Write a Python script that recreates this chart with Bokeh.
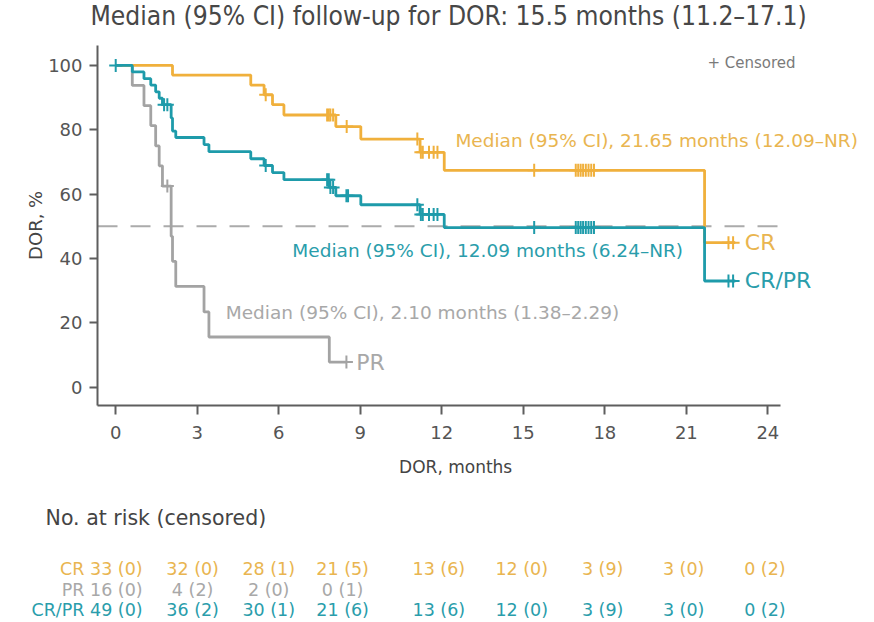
import numpy as np
from bokeh.plotting import figure
from bokeh.models import Range1d, Label, FixedTicker
from bokeh.embed import file_html
from bokeh.resources import INLINE

# ---------------- data ----------------
cr_times = [0, 2.09, 4.97, 5.46, 5.77, 6.19, 8.10, 9.02, 11.20, 12.09, 21.67]
cr_surv = [100, 97.0, 93.9, 90.9, 87.8, 84.6, 81.0, 77.1, 73.0, 67.4, 44.9]
cr_end = 22.8
cr_cens = [5.52, 7.78, 7.84, 7.90, 8.00, 8.50, 11.10, 11.23, 11.30, 11.53, 11.70, 11.84,
           15.40, 16.93, 17.02, 17.11, 17.20, 17.30, 17.40, 17.50, 17.60, 22.55, 22.72]

crpr_times = [0, 0.61, 1.04, 1.29, 1.47, 1.60, 1.72, 2.04, 2.09, 2.21, 3.25, 3.43, 4.97,
              5.46, 5.77, 6.19, 7.86, 8.10, 9.02, 11.20, 12.09, 21.67]
crpr_surv = [100, 98.0, 95.9, 93.9, 91.8, 89.8, 87.8, 83.7, 79.6, 77.6, 75.4, 73.2, 71.0,
             68.9, 66.7, 64.5, 62.1, 59.5, 56.7, 53.7, 49.6, 33.0]
crpr_end = 22.8
crpr_cens = [1.78, 1.90, 5.52, 7.78, 7.84, 7.90, 8.00, 8.49, 8.55, 11.10, 11.23, 11.30,
             11.53, 11.70, 11.84, 15.40, 16.93, 17.02, 17.11, 17.20, 17.30, 17.40, 17.50,
             17.60, 22.55, 22.72]

pr_times = [0, 0.61, 1.04, 1.29, 1.47, 1.60, 1.72, 2.04, 2.09, 2.21, 3.25, 3.43, 7.86]
pr_surv = [100, 93.8, 87.5, 81.3, 75.0, 68.8, 62.5, 46.9, 39.1, 31.3, 23.4, 15.6, 7.8]
pr_end = 8.49
pr_cens = [1.90, 8.49]

start_marks = [0]
median_level = 50

x_ticks = [0, 3, 6, 9, 12, 15, 18, 21, 24]
y_ticks = [0, 20, 40, 60, 80, 100]

risk_groups = ["CR", "PR", "CR/PR"]
cr_risk = [33, 32, 28, 21, 13, 12, 3, 3, 0]
cr_risk_cens = [0, 0, 1, 5, 6, 0, 9, 0, 2]
pr_risk = [16, 4, 2, 0]
pr_risk_cens = [0, 2, 0, 1]
crpr_risk = [49, 36, 30, 21, 13, 12, 3, 3, 0]
crpr_risk_cens = [0, 2, 1, 6, 6, 0, 9, 0, 2]

title_text = "Median (95% CI) follow-up for DOR: 15.5 months (11.2\u201317.1)"
cr_median_text = "Median (95% CI), 21.65 months (12.09\u2013NR)"
crpr_median_text = "Median (95% CI), 12.09 months (6.24\u2013NR)"
pr_median_text = "Median (95% CI), 2.10 months (1.38\u20132.29)"

# ---------------- style / layout ----------------
FONT = "DejaVu Sans"
FONT_T = "DejaVu Sans Condensed"
C_CR = "#F0B03C"
C_CRPR = "#1E9BAA"
C_PR = "#A3A3A3"
T_CR = "#E9B550"
T_CRPR = "#2A9DAB"
T_PR = "#A8A8A8"
AX = "#5E5E5E"

W, H = 872, 620
# whole canvas is the frame; axes are pinned inside it
X_RANGE = (-4.24, 27.85)
Y_RANGE = (-72.53, 120.19)
AX_X = (-0.67, 24.45)
AX_Y = (-5.7, 106.2)

p = figure(width=W, height=H, output_backend="svg", toolbar_location=None,
           x_range=Range1d(*X_RANGE), y_range=Range1d(*Y_RANGE),
           min_border_left=0, min_border_right=0, min_border_top=0,
           min_border_bottom=0)
p.outline_line_color = None
p.xgrid.visible = False
p.ygrid.visible = False

for ax in (p.xaxis[0], p.yaxis[0]):
    ax.axis_line_color = AX
    ax.axis_line_width = 2
    ax.major_tick_line_color = AX
    ax.major_tick_line_width = 2
    ax.minor_tick_line_color = None
    ax.major_tick_in = 0
    ax.major_label_text_font = FONT
    ax.major_label_text_font_size = "18px"
    ax.major_label_text_color = "#555555"

p.xaxis.fixed_location = AX_Y[0]
p.yaxis.fixed_location = AX_X[0]
p.xaxis.bounds = AX_X
p.yaxis.bounds = AX_Y
p.xaxis.ticker = FixedTicker(ticks=x_ticks)
p.yaxis.ticker = FixedTicker(ticks=y_ticks)
p.xaxis.major_tick_out = 9
p.yaxis.major_tick_out = 8
p.xaxis.major_label_standoff = 11
p.yaxis.major_label_standoff = 7

# median reference line
p.line([AX_X[0], 24.55], [median_level, median_level], line_color="#ABABAB",
       line_width=2, line_dash="20 13")


def draw_km(times, surv, end, cens, color):
    xs = list(times) + [end]
    ys = list(surv) + [surv[-1]]
    p.step(xs, ys, mode="after", line_color=color, line_width=2.8)
    t = np.asarray(times)
    idx = np.searchsorted(t, np.asarray(cens), side="right") - 1
    cy = np.asarray(surv)[idx]
    p.scatter(cens, cy, marker="cross", size=13, line_color=color, line_width=2)


draw_km(pr_times, pr_surv, pr_end, pr_cens, C_PR)
draw_km(cr_times, cr_surv, cr_end, cr_cens, C_CR)
draw_km(crpr_times, crpr_surv, crpr_end, crpr_cens, C_CRPR)
p.scatter(start_marks, [100] * len(start_marks), marker="cross", size=13,
          line_color=C_CRPR, line_width=2)


def lab(x, y, text, color, size, align="left", font=FONT, angle=0.0):
    p.add_layout(Label(x=x, y=y, text=text, text_color=color, text_font=font,
                       text_font_size=size, text_align=align,
                       text_baseline="middle", angle=angle))


# title, axis titles, key
lab(12.25, 115.5, title_text, "#474747", "26.2px", align="center", font=FONT_T)
lab(12.51, -24.9, "DOR, months", "#444444", "17px", align="center")
lab(-2.95, 50.3, "DOR, %", "#444444", "18px", align="center", angle=np.pi / 2)
lab(25.02, 100.9, "+ Censored", "#7A7A7A", "15px", align="right")

# median annotations
lab(12.5, 76.7, cr_median_text, T_CR, "18.5px")
lab(6.5, 42.4, crpr_median_text, T_CRPR, "18.5px")
lab(4.05, 23.2, pr_median_text, T_PR, "18.5px")

# curve end labels
lab(23.15, cr_surv[-1], risk_groups[0], T_CR, "22px")
lab(23.15, crpr_surv[-1], risk_groups[2], T_CRPR, "22px")
lab(8.85, pr_surv[-1], risk_groups[1], T_PR, "22px")

# ---------------- number at risk table ----------------
lab(-2.58, -40.8, "No. at risk (censored)", "#444444", "20.5px")
col_x = [0.99, 2.83, 5.63, 8.35, 11.89, 14.94, 17.92, 20.9, 23.89]
row_y = [-56.5, -63.0, -69.4]
rows = [(cr_risk, cr_risk_cens, T_CR), (pr_risk, pr_risk_cens, T_PR),
        (crpr_risk, crpr_risk_cens, T_CRPR)]
for gi, (nr, nc, col) in enumerate(rows):
    for i, (n, c) in enumerate(zip(nr, nc)):
        if i == 0:
            lab(col_x[0], row_y[gi], f"{risk_groups[gi]} {n} ({c})", col, "17.5px",
                align="right")
        else:
            lab(col_x[i], row_y[gi], f"{n} ({c})", col, "17.5px", align="center")

open("out.html", "w").write(file_html(p, INLINE))
